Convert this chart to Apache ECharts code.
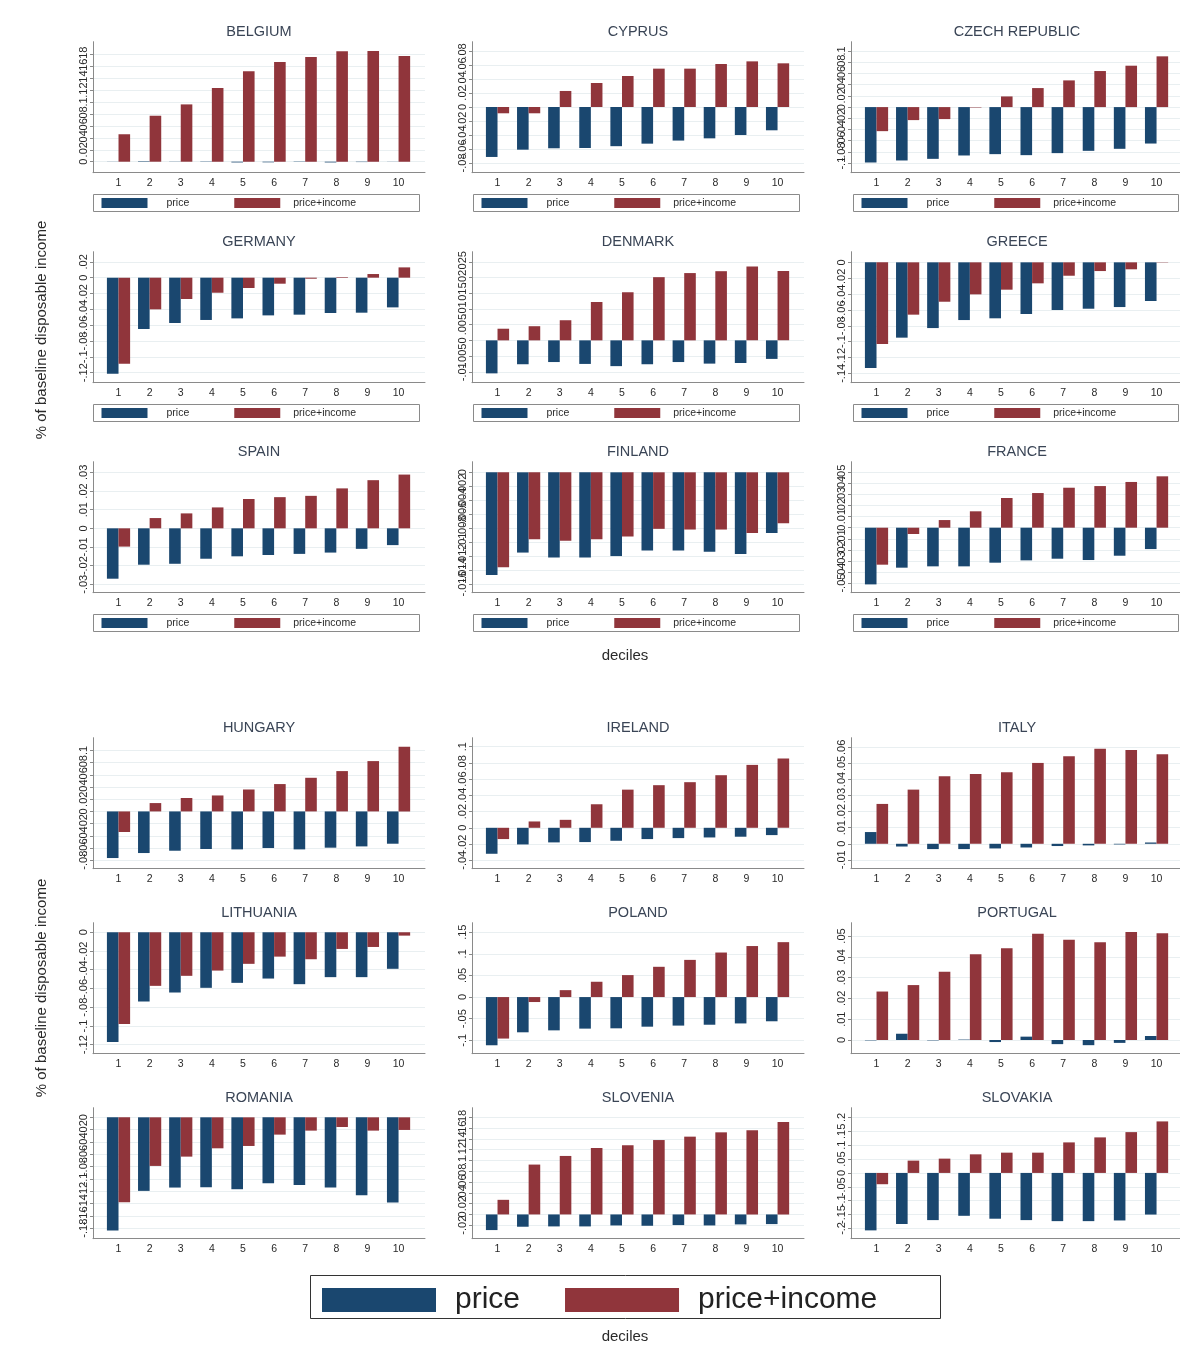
<!DOCTYPE html>
<html><head><meta charset="utf-8">
<script src="https://cdn.jsdelivr.net/npm/echarts@6/dist/echarts.min.js"></script>
<style>html,body{margin:0;padding:0;background:#fff}#chart{width:1180px;height:1362px}</style>
</head><body><div id="chart"></div>
<script>
const DECILES = [1, 2, 3, 4, 5, 6, 7, 8, 9, 10];
const SERIES_NAMES = ['price', 'price+income'];
const COUNTRIES = ['BELGIUM', 'CYPRUS', 'CZECH REPUBLIC', 'GERMANY', 'DENMARK', 'GREECE', 'SPAIN', 'FINLAND', 'FRANCE',
  'HUNGARY', 'IRELAND', 'ITALY', 'LITHUANIA', 'POLAND', 'PORTUGAL', 'ROMANIA', 'SLOVENIA', 'SLOVAKIA'];
const Y_TITLE = '% of baseline disposable income';
const X_TITLE = 'deciles';

const BELGIUM_PRICE = [0.0002, 0.0008, 0.0003, -0.0005, -0.0012, -0.001, 0.0005, -0.0012, -0.0006, 0.0002];
const BELGIUM_PRICE_INCOME = [0.046, 0.077, 0.096, 0.1235, 0.1515, 0.167, 0.1755, 0.185, 0.1855, 0.177];
const BELGIUM_TICKS = [0, 0.02, 0.04, 0.06, 0.08, 0.1, 0.12, 0.14, 0.16, 0.18];
const BELGIUM_RANGE = [-0.0184, 0.201];

const CYPRUS_PRICE = [-0.0714, -0.061, -0.059, -0.0586, -0.056, -0.0524, -0.048, -0.0448, -0.04, -0.0333];
const CYPRUS_PRICE_INCOME = [-0.009, -0.009, 0.0229, 0.0343, 0.0443, 0.0548, 0.0548, 0.0614, 0.0652, 0.0624];
const CYPRUS_TICKS = [-0.08, -0.06, -0.04, -0.02, 0, 0.02, 0.04, 0.06, 0.08];
const CYPRUS_RANGE = [-0.0939, 0.0933];

const CZECH_PRICE = [-0.0988, -0.0952, -0.0923, -0.0863, -0.0839, -0.0857, -0.0821, -0.078, -0.0744, -0.065];
const CZECH_PRICE_INCOME = [-0.0429, -0.0232, -0.0214, -0.0008, 0.019, 0.0339, 0.0476, 0.0643, 0.0738, 0.0905];
const CZECH_TICKS = [-0.1, -0.08, -0.06, -0.04, -0.02, 0, 0.02, 0.04, 0.06, 0.08, 0.1];
const CZECH_RANGE = [-0.117, 0.1166];

const GERMANY_PRICE = [-0.1213, -0.0648, -0.0572, -0.0534, -0.0514, -0.0476, -0.0467, -0.0446, -0.0442, -0.0375];
const GERMANY_PRICE_INCOME = [-0.1086, -0.04, -0.0269, -0.019, -0.013, -0.0076, -0.0013, 0.0008, 0.0046, 0.013];
const GERMANY_TICKS = [-0.12, -0.1, -0.08, -0.06, -0.04, -0.02, 0, 0.02];
const GERMANY_RANGE = [-0.1326, 0.0328];

const DENMARK_PRICE = [-0.0105, -0.0076, -0.0069, -0.0075, -0.0082, -0.0076, -0.0069, -0.0074, -0.0072, -0.0059];
const DENMARK_PRICE_INCOME = [0.0037, 0.0045, 0.0064, 0.0122, 0.0153, 0.0201, 0.0214, 0.022, 0.0235, 0.0221];
const DENMARK_TICKS = [-0.01, -0.005, 0, 0.005, 0.01, 0.015, 0.02, 0.025];
const DENMARK_RANGE = [-0.01347, 0.0282];

const GREECE_PRICE = [-0.1333, -0.095, -0.0829, -0.0728, -0.0706, -0.0652, -0.0601, -0.0585, -0.0564, -0.0488];
const GREECE_PRICE_INCOME = [-0.103, -0.066, -0.0497, -0.0404, -0.0345, -0.0265, -0.0169, -0.011, -0.0088, -0.0004];
const GREECE_TICKS = [-0.14, -0.12, -0.1, -0.08, -0.06, -0.04, -0.02, 0];
const GREECE_RANGE = [-0.1518, 0.0134];

const SPAIN_PRICE = [-0.027, -0.0195, -0.019, -0.0163, -0.015, -0.0143, -0.0137, -0.013, -0.011, -0.009];
const SPAIN_PRICE_INCOME = [-0.0098, 0.0055, 0.008, 0.0112, 0.0157, 0.0167, 0.0174, 0.0214, 0.0258, 0.0288];
const SPAIN_TICKS = [-0.03, -0.02, -0.01, 0, 0.01, 0.02, 0.03];
const SPAIN_RANGE = [-0.0345, 0.0357];

const FINLAND_PRICE = [-0.0147, -0.0115, -0.0122, -0.0122, -0.012, -0.0112, -0.0112, -0.0114, -0.0117, -0.0087];
const FINLAND_PRICE_INCOME = [-0.0136, -0.0096, -0.0098, -0.0096, -0.0092, -0.0081, -0.0082, -0.0082, -0.0087, -0.0073];
const FINLAND_TICKS = [-0.016, -0.014, -0.012, -0.01, -0.008, -0.006, -0.004, -0.002, 0];
const FINLAND_RANGE = [-0.01725, 0.00152];

const FRANCE_PRICE = [-0.0512, -0.0361, -0.0349, -0.0349, -0.0316, -0.0295, -0.028, -0.0292, -0.0253, -0.0193];
const FRANCE_PRICE_INCOME = [-0.0334, -0.0057, 0.0069, 0.0148, 0.0268, 0.0313, 0.0361, 0.0376, 0.0413, 0.0464];
const FRANCE_TICKS = [-0.05, -0.04, -0.03, -0.02, -0.01, 0, 0.01, 0.02, 0.03, 0.04, 0.05];
const FRANCE_RANGE = [-0.0587, 0.0596];

const HUNGARY_PRICE = [-0.0765, -0.0683, -0.0645, -0.0617, -0.0623, -0.06, -0.0623, -0.0595, -0.0574, -0.053];
const HUNGARY_PRICE_INCOME = [-0.0338, 0.0137, 0.022, 0.0262, 0.036, 0.0449, 0.0552, 0.0662, 0.0826, 0.106];
const HUNGARY_TICKS = [-0.08, -0.06, -0.04, -0.02, 0, 0.02, 0.04, 0.06, 0.08, 0.1];
const HUNGARY_RANGE = [-0.094, 0.121];

const IRELAND_PRICE = [-0.032, -0.0205, -0.018, -0.0176, -0.016, -0.0139, -0.0127, -0.0119, -0.011, -0.009];
const IRELAND_PRICE_INCOME = [-0.0139, 0.0078, 0.0098, 0.029, 0.047, 0.0525, 0.0562, 0.0648, 0.0775, 0.0853];
const IRELAND_TICKS = [-0.04, -0.02, 0, 0.02, 0.04, 0.06, 0.08, 0.1];
const IRELAND_RANGE = [-0.0504, 0.111];

const ITALY_PRICE = [0.0073, -0.0017, -0.0033, -0.0033, -0.0029, -0.0023, -0.0014, -0.001, -0.0004, 0.0008];
const ITALY_PRICE_INCOME = [0.0248, 0.0337, 0.042, 0.0434, 0.0445, 0.0503, 0.0544, 0.0592, 0.0583, 0.0557];
const ITALY_TICKS = [-0.01, 0, 0.01, 0.02, 0.03, 0.04, 0.05, 0.06];
const ITALY_RANGE = [-0.0155, 0.066];

const LITHUANIA_PRICE = [-0.117, -0.0739, -0.0643, -0.0593, -0.054, -0.0494, -0.0554, -0.0479, -0.0479, -0.039];
const LITHUANIA_PRICE_INCOME = [-0.098, -0.0572, -0.0465, -0.0409, -0.0337, -0.026, -0.0288, -0.0178, -0.0157, -0.0036];
const LITHUANIA_TICKS = [-0.12, -0.1, -0.08, -0.06, -0.04, -0.02, 0];
const LITHUANIA_RANGE = [-0.1296, 0.0102];

const POLAND_PRICE = [-0.1115, -0.0815, -0.077, -0.073, -0.0723, -0.0685, -0.066, -0.064, -0.061, -0.056];
const POLAND_PRICE_INCOME = [-0.096, -0.0115, 0.016, 0.0354, 0.0508, 0.07, 0.086, 0.103, 0.118, 0.127];
const POLAND_TICKS = [-0.1, -0.05, 0, 0.05, 0.1, 0.15];
const POLAND_RANGE = [-0.131, 0.172];

const PORTUGAL_PRICE = [-0.0002, 0.003, -0.0002, 0.0002, -0.001, 0.0016, -0.002, -0.0025, -0.0014, 0.0019];
const PORTUGAL_PRICE_INCOME = [0.0233, 0.0264, 0.0328, 0.0412, 0.0441, 0.0511, 0.0482, 0.047, 0.0519, 0.0513];
const PORTUGAL_TICKS = [0, 0.01, 0.02, 0.03, 0.04, 0.05];
const PORTUGAL_RANGE = [-0.0066, 0.0564];

const ROMANIA_PRICE = [-0.1838, -0.1194, -0.114, -0.1135, -0.1167, -0.107, -0.1097, -0.114, -0.1264, -0.1384];
const ROMANIA_PRICE_INCOME = [-0.1378, -0.0789, -0.0638, -0.0503, -0.0465, -0.0281, -0.0216, -0.0157, -0.0216, -0.0205];
const ROMANIA_TICKS = [-0.18, -0.16, -0.14, -0.12, -0.1, -0.08, -0.06, -0.04, -0.02, 0];
const ROMANIA_RANGE = [-0.197, 0.0156];

const SLOVENIA_PRICE = [-0.029, -0.0228, -0.0222, -0.0222, -0.0204, -0.021, -0.0197, -0.0204, -0.0185, -0.0179];
const SLOVENIA_PRICE_INCOME = [0.0271, 0.0925, 0.1085, 0.1233, 0.1282, 0.138, 0.1443, 0.1523, 0.156, 0.1714];
const SLOVENIA_TICKS = [-0.02, 0, 0.02, 0.04, 0.06, 0.08, 0.1, 0.12, 0.14, 0.16, 0.18];
const SLOVENIA_RANGE = [-0.045, 0.198];

const SLOVAKIA_PRICE = [-0.207, -0.184, -0.17, -0.1545, -0.165, -0.17, -0.1737, -0.1737, -0.1713, -0.15];
const SLOVAKIA_PRICE_INCOME = [-0.0407, 0.0443, 0.0515, 0.067, 0.073, 0.073, 0.11, 0.128, 0.147, 0.1856];
const SLOVAKIA_TICKS = [-0.2, -0.15, -0.1, -0.05, 0, 0.05, 0.1, 0.15, 0.2];
const SLOVAKIA_RANGE = [-0.237, 0.235];

const PANEL_DATA = [
  [BELGIUM_PRICE, BELGIUM_PRICE_INCOME, BELGIUM_TICKS, BELGIUM_RANGE],
  [CYPRUS_PRICE, CYPRUS_PRICE_INCOME, CYPRUS_TICKS, CYPRUS_RANGE],
  [CZECH_PRICE, CZECH_PRICE_INCOME, CZECH_TICKS, CZECH_RANGE],
  [GERMANY_PRICE, GERMANY_PRICE_INCOME, GERMANY_TICKS, GERMANY_RANGE],
  [DENMARK_PRICE, DENMARK_PRICE_INCOME, DENMARK_TICKS, DENMARK_RANGE],
  [GREECE_PRICE, GREECE_PRICE_INCOME, GREECE_TICKS, GREECE_RANGE],
  [SPAIN_PRICE, SPAIN_PRICE_INCOME, SPAIN_TICKS, SPAIN_RANGE],
  [FINLAND_PRICE, FINLAND_PRICE_INCOME, FINLAND_TICKS, FINLAND_RANGE],
  [FRANCE_PRICE, FRANCE_PRICE_INCOME, FRANCE_TICKS, FRANCE_RANGE],
  [HUNGARY_PRICE, HUNGARY_PRICE_INCOME, HUNGARY_TICKS, HUNGARY_RANGE],
  [IRELAND_PRICE, IRELAND_PRICE_INCOME, IRELAND_TICKS, IRELAND_RANGE],
  [ITALY_PRICE, ITALY_PRICE_INCOME, ITALY_TICKS, ITALY_RANGE],
  [LITHUANIA_PRICE, LITHUANIA_PRICE_INCOME, LITHUANIA_TICKS, LITHUANIA_RANGE],
  [POLAND_PRICE, POLAND_PRICE_INCOME, POLAND_TICKS, POLAND_RANGE],
  [PORTUGAL_PRICE, PORTUGAL_PRICE_INCOME, PORTUGAL_TICKS, PORTUGAL_RANGE],
  [ROMANIA_PRICE, ROMANIA_PRICE_INCOME, ROMANIA_TICKS, ROMANIA_RANGE],
  [SLOVENIA_PRICE, SLOVENIA_PRICE_INCOME, SLOVENIA_TICKS, SLOVENIA_RANGE],
  [SLOVAKIA_PRICE, SLOVAKIA_PRICE_INCOME, SLOVAKIA_TICKS, SLOVAKIA_RANGE]
];

// ---- layout / style ----
const COLORS = ['#1a476f', '#90353b'];
const FONT = '"Liberation Sans", Arial, sans-serif';
const COL_LEFT = [93, 472, 851];
const ROW_TOP = [41.7, 251.7, 461.7, 737.7, 922.7, 1107.7];
const PLOT_W = 332, PLOT_H = 131;
const X_MIN = 0.18, X_MAX = 10.85;
const BOX_LEFT = [93, 473, 853];
const BOX_W = [326, 326, 325];
const AXIS_GREY = '#8a8a8a';

function fmt(v) {
  let s = String(+Number(v).toFixed(4));
  if (s.startsWith('0.')) s = s.slice(1);
  else if (s.startsWith('-0.')) s = '-' + s.slice(2);
  return s;
}

const grids = [], xAxes = [], yAxes = [], series = [], titles = [], legends = [], graphics = [];
const yLabelStyle = {rotate: 90, fontSize: 11, color: '#2a2a2a', margin: 4, fontFamily: FONT,
  formatter: fmt, showMinLabel: true, showMaxLabel: true, hideOverlap: false};

PANEL_DATA.forEach((p, i) => {
  const row = Math.floor(i / 3), col = i % 3;
  const left = COL_LEFT[col], top = ROW_TOP[row];
  const ticks = p[2];
  // split tick labels over two overlaid axes so ECharts never drops an end label
  const evenTicks = ticks.filter((t, k) => k % 2 === 0);
  const oddTicks = ticks.filter((t, k) => k % 2 === 1);
  grids.push({left: left, top: top, width: PLOT_W, height: PLOT_H, containLabel: false, outerBoundsMode: 'none'});
  xAxes.push({
    type: 'value', gridIndex: i, min: X_MIN, max: X_MAX,
    axisLine: {show: true, onZero: false, lineStyle: {color: AXIS_GREY, width: 1}},
    axisTick: {show: false}, splitLine: {show: false},
    axisLabel: {customValues: DECILES, fontSize: 10.5, color: '#2a2a2a', margin: 5, fontFamily: FONT,
      showMinLabel: true, showMaxLabel: true}
  });
  yAxes.push({
    type: 'value', gridIndex: i, position: 'left', min: p[3][0], max: p[3][1],
    axisLine: {show: true, onZero: false, lineStyle: {color: AXIS_GREY, width: 1}},
    axisTick: {show: true, length: 3, customValues: ticks, lineStyle: {color: AXIS_GREY}},
    axisLabel: Object.assign({customValues: evenTicks}, yLabelStyle),
    splitLine: {show: true, lineStyle: {color: '#e9eff1', width: 1}}
  });
  yAxes.push({
    type: 'value', gridIndex: i, position: 'left', offset: 0, min: p[3][0], max: p[3][1],
    axisLine: {show: false, onZero: false}, axisTick: {show: false}, splitLine: {show: false},
    axisLabel: Object.assign({customValues: oddTicks}, yLabelStyle)
  });
  [p[0], p[1]].forEach((vals, s) => {
    series.push({
      type: 'bar', name: SERIES_NAMES[s], xAxisIndex: i, yAxisIndex: 2 * i,
      data: DECILES.map((d, k) => [d, vals[k]]),
      barWidth: 11.6, barGap: '0%', itemStyle: {color: COLORS[s]}, silent: true
    });
  });
  titles.push({
    text: COUNTRIES[i], left: left + PLOT_W / 2, top: top - 17, textAlign: 'center', padding: 0,
    textStyle: {fontSize: 14.5, fontWeight: 'normal', color: '#3a4556', fontFamily: FONT}
  });
  if (row < 3) {
    const boxTop = top + PLOT_H + 21.3;
    graphics.push({type: 'rect', silent: true, shape: {x: BOX_LEFT[col] + 0.5, y: Math.round(boxTop) + 0.5, width: BOX_W[col], height: 17},
      style: {fill: 'none', stroke: AXIS_GREY, lineWidth: 1}});
    legends.push({
      left: BOX_LEFT[col] + 8.5, top: boxTop + 3.5, orient: 'horizontal', padding: 0,
      itemWidth: 46, itemHeight: 10, itemGap: 45, icon: 'rect', selectedMode: false,
      textStyle: {fontSize: 10.5, color: '#2a2a2a', fontFamily: FONT},
      data: [{name: SERIES_NAMES[0], textStyle: {padding: [0, 0, 0, 14]}},
             {name: SERIES_NAMES[1], textStyle: {padding: [0, 0, 0, 8]}}]
    });
  }
});

// big legend for lower figure
graphics.push({type: 'rect', silent: true, shape: {x: 310.5, y: 1275.5, width: 630, height: 43},
  style: {fill: 'none', stroke: '#333', lineWidth: 1}});
legends.push({
  left: 322, top: 1285, orient: 'horizontal', padding: 0,
  itemWidth: 114, itemHeight: 24, itemGap: 45, icon: 'rect', selectedMode: false,
  textStyle: {fontSize: 30, color: '#222', fontFamily: FONT},
  data: [{name: SERIES_NAMES[0], textStyle: {padding: [0, 0, 0, 14]}},
         {name: SERIES_NAMES[1], textStyle: {padding: [0, 0, 0, 14]}}]
});

// axis titles
titles.push({text: X_TITLE, left: 625, top: 648, textAlign: 'center', padding: 0,
  textStyle: {fontSize: 15, fontWeight: 'normal', color: '#2a2a2a', fontFamily: FONT}});
titles.push({text: X_TITLE, left: 625, top: 1329, textAlign: 'center', padding: 0,
  textStyle: {fontSize: 15, fontWeight: 'normal', color: '#2a2a2a', fontFamily: FONT}});
[330, 988].forEach(cy => {
  graphics.push({type: 'text', silent: true, x: 42, y: cy, rotation: Math.PI / 2,
    style: {text: Y_TITLE, fontSize: 15, fill: '#2a2a2a', fontFamily: FONT, align: 'center', verticalAlign: 'middle'}});
});

const chart = echarts.init(document.getElementById('chart'), null, {renderer: 'canvas'});
chart.setOption({
  animation: false,
  backgroundColor: '#ffffff',
  title: titles,
  legend: legends,
  grid: grids,
  xAxis: xAxes,
  yAxis: yAxes,
  series: series,
  graphic: graphics
});
</script>
</body></html>
